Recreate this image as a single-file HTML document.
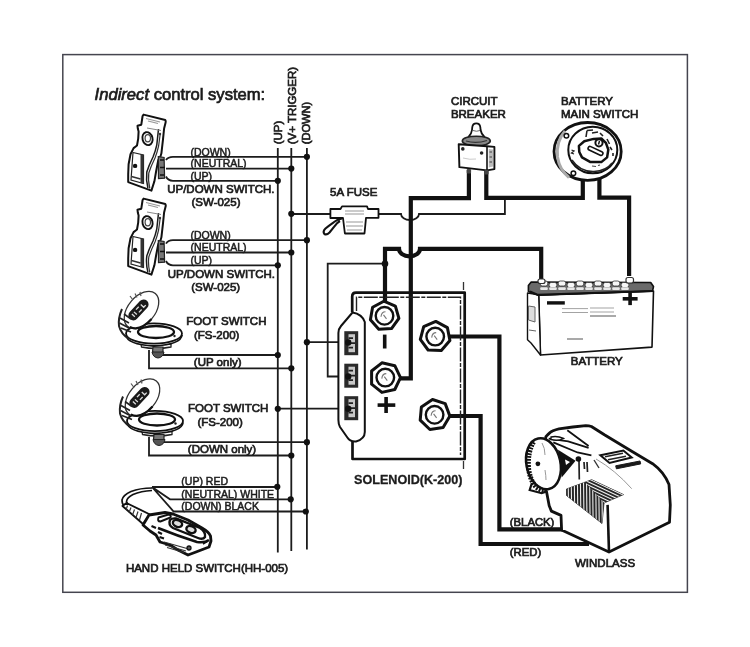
<!DOCTYPE html>
<html><head><meta charset="utf-8"><style>
html,body{margin:0;padding:0;background:#fff;}
body{width:750px;height:647px;overflow:hidden;}
svg{display:block;will-change:transform;}
text{font-family:"Liberation Sans",sans-serif;fill:#1c1c1c;stroke:#1c1c1c;stroke-width:0.7px;}
.w{font-size:10.5px;stroke-width:0.5px;}
.l{font-size:11.5px;}
.t{stroke:#1c1c1c;stroke-width:1.8;fill:none;}
.k{stroke:#111;stroke-width:4.2;fill:none;stroke-linejoin:miter;}
.d{fill:#111;}
.o{stroke:#111;stroke-width:2;fill:#fff;stroke-linejoin:round;}
</style></head><body>
<svg width="750" height="647" viewBox="0 0 750 647">
<rect x="0" y="0" width="750" height="647" fill="#fff"/>
<!-- frame -->
<rect x="62.8" y="54.6" width="624.6" height="537.7" fill="none" stroke="#45454f" stroke-width="1.5"/>

<!-- thin circuit lines center -->
<path class="t" d="M291.3 214 H401 A9 6 0 0 0 419 214 H504.9 V197.6"/>
<path class="t" d="M385 263.7 H327.7 V376.5 H348"/>
<path class="t" d="M306.9 342.2 H348"/>
<path class="t" d="M277.8 408.7 H348"/>

<!-- thick cables -->
<path class="k" d="M385 378.3 H410.8 V198.2 H468.9 V170"/>
<path class="k" d="M385 315 V248.8 H399 A10.5 7.5 0 0 0 420 248.8 H541.2 V280"/>
<path class="k" d="M486.3 170 V197.8 H582.8 V178"/>
<path class="k" d="M599.4 178 V197.6 H629.1 V276"/>
<path class="k" d="M435 336.5 H499.4 V529.4 H562.4"/>
<path class="k" d="M434.5 416 H480.6 V544 H589"/>
<!-- title -->
<text x="94.6" y="100" style="font-size:16.6px"><tspan font-style="italic">Indirect</tspan> control system:</text>

<!-- bus labels -->
<text class="l" transform="translate(282,144.3) rotate(-90)">(UP)</text>
<text class="l" transform="translate(295.6,144.3) rotate(-90)">(V+ TRIGGER)</text>
<text class="l" transform="translate(310,144.3) rotate(-90)" style="font-size:11.1px">(DOWN)</text>

<!-- bus lines -->
<path class="t" d="M277.8 148V552.4 M291.3 148V551 M306.9 148V549.4"/>

<!-- SW1 wires -->
<path class="t" d="M166 160 Q168 156.8 173 156.8 H306.9 M166 168.6 H291.3 M166 176.5 Q168 180.8 173 180.8 H277.8"/>
<!-- SW2 wires -->
<path class="t" d="M166 243.6 Q168 240.2 173 240.2 H306.9 M166 252.5 H291.3 M166 261 Q168 265.3 173 265.3 H277.8"/>
<!-- FS1 wires -->
<path class="t" d="M163 355 H277.8 M149 350 V368.3 H291.3"/>
<!-- FS2 wires -->
<path class="t" d="M163 442.2 H306.9 M149 437 V455.5 H291.3"/>
<!-- HH wires -->
<path class="t" d="M152 487 H277.8 M152 487 L170 499.3 H291.3 M152 487 L173.6 511.5 H306.9"/>

<!-- dots -->
<g class="d">
<circle cx="306.9" cy="156.8" r="3.1"/><circle cx="291.3" cy="168.6" r="3.1"/><circle cx="277.8" cy="180.8" r="3.1"/>
<circle cx="306.9" cy="240.2" r="3.1"/><circle cx="291.3" cy="252.5" r="3.1"/><circle cx="277.8" cy="265.3" r="3.1"/>
<circle cx="291.3" cy="213.8" r="3.1"/>
<circle cx="277.8" cy="355" r="3.1"/><circle cx="291.3" cy="368.3" r="3.1"/>
<circle cx="306.9" cy="342.2" r="3.1"/>
<circle cx="306.9" cy="442.2" r="3.1"/><circle cx="291.3" cy="455.5" r="3.1"/>
<circle cx="277.8" cy="408.8" r="3.1"/>
<circle cx="277.3" cy="486.8" r="3.1"/><circle cx="290.7" cy="499.3" r="3.1"/><circle cx="305.8" cy="511.5" r="3.1"/>
<circle cx="385" cy="263.7" r="3.3"/>
</g>

<!-- wire labels -->
<text class="w" x="190.4" y="155.5">(DOWN)</text>
<text class="w" x="190.6" y="167.2">(NEUTRAL)</text>
<text class="w" x="190.4" y="180">(UP)</text>
<text class="l" x="167.2" y="192.8">UP/DOWN SWITCH.</text>
<text class="l" x="191.5" y="205.9">(SW-025)</text>

<text class="w" x="190.4" y="238.6">(DOWN)</text>
<text class="w" x="190.6" y="251">(NEUTRAL)</text>
<text class="w" x="190.4" y="263.8">(UP)</text>
<text class="l" x="167.7" y="277.8">UP/DOWN SWITCH.</text>
<text class="l" x="191.2" y="291">(SW-025)</text>

<text class="l" x="186.2" y="325">FOOT SWITCH</text>
<text class="l" x="194" y="339">(FS-200)</text>
<text class="l" x="193.8" y="366.2">(UP only)</text>

<text class="l" x="188" y="412.2">FOOT SWITCH</text>
<text class="l" x="197.4" y="426.2">(FS-200)</text>
<text class="l" x="187.8" y="453">(DOWN only)</text>

<text class="w" x="181.3" y="484.9">(UP) RED</text>
<text class="w" x="181.3" y="497.6">(NEUTRAL) WHITE</text>
<text class="w" x="181.3" y="509.6">(DOWN) BLACK</text>
<text class="l" x="125.9" y="571.8">HAND HELD SWITCH(HH-005)</text>

<!-- right side labels -->
<text class="l" x="330" y="196">5A FUSE</text>
<text class="l" x="450.9" y="104.5">CIRCUIT</text>
<text class="l" x="450.9" y="117.9">BREAKER</text>
<text class="l" x="561" y="104.5">BATTERY</text>
<text class="l" x="561" y="117.9">MAIN SWITCH</text>
<text class="l" x="570.8" y="365.2">BATTERY</text>
<text x="354" y="484.3" style="font-size:12.6px;font-weight:bold;stroke-width:0.3px">SOLENOID(K-200)</text>
<text class="l" x="509.8" y="525.6" style="font-size:11.3px">(BLACK)</text>
<text class="l" x="509.8" y="556.2" style="font-size:11.3px">(RED)</text>
<text class="l" x="575" y="566.6">WINDLASS</text>


<!-- ===== UP/DOWN switch ===== -->
<g id="sw">
<path d="M143.6 114.6 L165.3 120 Q166 121 165.6 122.5 L164.1 128.5 L163 139.4 L161.4 153.3 L160.6 156 L158.3 160 L156 172 L154.4 181.3 L151.4 190.6 L128.2 182.1 L128.2 174.4 L128.6 164.3 L130.5 154.3 L133.6 148.1 L137 145.5 L138.2 138.6 L138.6 131.6 L137.8 128.5 L137.5 125.8 L141.3 124.7 L142.6 116 Z" fill="#fff" stroke="#111" stroke-width="2" stroke-linejoin="round"/>
<path d="M158.5 129 Q157.5 138 156.8 144.8 Q155.5 151 153 157 Q149 165 146.8 172 Q145.8 180 147.9 188" fill="none" stroke="#1a1a1a" stroke-width="1.5"/>
<path d="M160.2 134 Q159.3 141 158.6 146 Q157.3 152 155 158 Q151 166 148.8 173 Q147.8 180 149.8 188.5" fill="none" stroke="#333" stroke-width="1.2"/>
<ellipse cx="147.5" cy="138.6" rx="5" ry="6.6" transform="rotate(-15 147.5 138.6)" fill="none" stroke="#111" stroke-width="1.9"/>
<ellipse cx="147.8" cy="138.3" rx="2.7" ry="3.6" fill="none" stroke="#444" stroke-width="1.2"/>
<path d="M133 152.5 L143.5 155 L143.5 183.5 L131 180 Z" fill="#fff" stroke="#222" stroke-width="1.2"/>
<path d="M140.5 154 L143.5 155 L143.5 184 L140.5 183 Z" fill="#333"/>
<path d="M131.5 176.5 L140.5 179" stroke="#333" stroke-width="1.5"/>
<circle cx="135.1" cy="165.9" r="2.2" fill="#111"/>
<path d="M147 128 L161 130.5" stroke="#888" stroke-width="1"/>
<path d="M146 118.5 L160 122 M148 121 L158 123.5" stroke="#999" stroke-width="1.2"/>
<circle cx="160" cy="134" r="1.2" fill="#333"/>
<path d="M158.3 156.6 L164.1 157.5 L164.6 178.2 L158.5 178.5 Z" fill="#777" stroke="#222" stroke-width="1.2"/>
<path d="M160 160 L164 160 M160 167.5 L165 167.5 M160 175 L164 175" stroke="#111" stroke-width="1.6"/>
</g>
<use href="#sw" transform="translate(0,84)"/>



<!-- ===== FOOT SWITCH ===== -->
<g id="fs">
<path d="M141 344 L141.5 347 Q156 350 171 347 L171 344 Z" fill="#fff" stroke="#222" stroke-width="1.3"/>
<path d="M153 347 L152.5 352 Q158 354 163 352 L163 347 Z" fill="#777" stroke="#222" stroke-width="1.2"/>
<path d="M152 352 Q153 357.5 158 358 Q163 357.5 164 352 Z" fill="#555" stroke="#222" stroke-width="1"/>
<path d="M126 335 Q127 344.5 154 346 Q181 344.5 182 335" fill="#fff" stroke="#111" stroke-width="1.8"/>
<ellipse cx="154" cy="333.5" rx="28" ry="10.2" fill="#fff" stroke="#111" stroke-width="1.8"/>
<ellipse cx="156" cy="332" rx="18" ry="6" fill="#fff" stroke="#111" stroke-width="2.3"/>
<circle cx="174.5" cy="336" r="1.2" fill="#222"/>
<g transform="rotate(-50 141.5 310)">
<ellipse cx="141.5" cy="310" rx="21.5" ry="13.5" fill="#fff" stroke="#333" stroke-width="1.3"/>
<path d="M121 312 Q124 323 141 323.5" fill="none" stroke="#111" stroke-width="2.2"/>
</g>
<g transform="rotate(-47 138.4 310)">
<rect x="126" y="305" width="25" height="10" rx="5" fill="#1a1a1a"/>
<path d="M131 308 V312 M134 308 V312 M137 308 H141 M137 312 H141 M144 308 V312 H147" stroke="#ddd" stroke-width="1.3" fill="none"/>
</g>
<path d="M122 309 Q118 318 119 326 Q121 334 129 339" fill="none" stroke="#222" stroke-width="2"/>
<path d="M120 318 L129 323 M119.5 323 L129 328 M121 328 L131 332 M124 314 L131 319" fill="none" stroke="#222" stroke-width="1.6"/>
<path d="M130 296 L133 300 M135 293.5 L137 297.5 M140 292 L141 296" stroke="#555" stroke-width="1.2"/>
</g>
<use href="#fs" transform="translate(1,87.5)"/>

<!-- ===== HAND HELD ===== -->
<g>
<path d="M152 488 Q140 488 131 491.5 Q123 495 122 500 Q122 504 124 505.5 M152 490.5 Q141 491 133 494.5 Q127 497.5 126.5 501.5 Q127 503.5 128 504" fill="none" stroke="#111" stroke-width="1.7"/>
<path d="M122.5 506 L126.5 503 L150 514.5 L143 524 Z" fill="#fff" stroke="#111" stroke-width="1.9" stroke-linejoin="round"/>
<path d="M127.5 505.5 L126 510 M131 507.5 L129 512.5 M134.5 509.5 L132.5 515 M138 511.5 L136 517.5 M141.5 513 L139.5 520" stroke="#333" stroke-width="1.2"/>
<path d="M149 515 L165 512.5 L173 514 L188 520 L202 528 Q209 532 210.5 536 L211 541 L209 547 L196 552 L188 555 L178 550 L170 545 L160 542 L156 535 L150 531 L143 525 Z" fill="#fff" stroke="#111" stroke-width="2.8" stroke-linejoin="round"/>
<path d="M158.5 517.5 L168.5 514.5 Q171.5 515 170.5 517.5 L160.5 521.5 Q157 521.5 158.5 517.5 Z" fill="#fff" stroke="#111" stroke-width="2"/>
<path d="M170 520 Q172 518 176 518.5 L200 528 Q206 532 205 537 Q203 540 198 538 L173 528 Q168 525 170 520 Z" fill="#fff" stroke="#111" stroke-width="2.4"/>
<ellipse cx="177.5" cy="523.5" rx="4.8" ry="3.3" transform="rotate(22 177.5 523.5)" fill="#ddd" stroke="#111" stroke-width="2.4"/>
<ellipse cx="191" cy="529.5" rx="4.8" ry="3.3" transform="rotate(22 191 529.5)" fill="#ddd" stroke="#111" stroke-width="2.4"/>
<path d="M158 528 Q178 536 197 542 Q205 543 209 540" fill="none" stroke="#111" stroke-width="2.6"/>
<path d="M164 542 L187 548.5 M165 545 L186 551 M167 547.5 L184 552.5" stroke="#333" stroke-width="1.2"/>
<path d="M151.5 526 L156 528 M158 532 L162 534 M159.5 537 L164 538.5" stroke="#111" stroke-width="2.2"/>
<circle cx="189" cy="548" r="2" fill="#555" stroke="#111" stroke-width="1.3"/>
<path d="M203 544 L208 541" stroke="#111" stroke-width="1.5"/>
</g>

<!-- ===== WINDLASS ===== -->
<g>
<path d="M545.9 436.7 Q550 432 552.4 431.1 Q556 429.3 558.9 428.8 L572.8 427 L585.8 425.6 Q589 425.6 591.4 426.5 L604.4 434.8 L631.7 451.2 L652.6 463.7 Q664 472 669 484.6 L670.3 505 L669.5 522.3 L609 552.1 L561.6 530 L561 515.4 L551.4 511.1 L549.2 505.7 L546.5 491.6 L540 480 Z" fill="#fff" stroke="#111" stroke-width="2.8" stroke-linejoin="round"/>
<path d="M609 552.1 L607.6 504.9" fill="none" stroke="#111" stroke-width="2.6"/>
<path d="M531.9 483 L529.7 490 L541.6 493.2 L546 491.6" fill="none" stroke="#111" stroke-width="2.2"/>
<path d="M596 459 Q615 470 631.7 488.7" fill="none" stroke="#999" stroke-width="1"/>
<defs>
<clipPath id="finL"><polygon points="566.5,489 585,482.1 604,503 602,523.5 566.5,495.5"/></clipPath>
<clipPath id="finR"><polygon points="585,482.1 591.7,479.7 623.5,494.6 604,503"/></clipPath>
</defs>
<polygon points="566.5,489 591.7,479.7 623.5,494.6 604,503 602,523.5 566.5,495.5" fill="#262626" stroke="#222" stroke-width="0.8" stroke-linejoin="round"/>
<path clip-path="url(#finL)" d="M568.2 478 L568.8 530 M571.2 478 L571.9 530 M574.3 478 L574.9 530 M577.4 478 L578.0 530 M580.4 478 L581.0 530 M583.5 478 L584.1 530 M586.5 478 L587.1 530 M589.6 478 L590.2 530 M592.6 478 L593.2 530 M595.7 478 L596.3 530 M598.7 478 L599.3 530 M601.8 478 L602.4 530 M604.8 478 L605.4 530" stroke="#eee" stroke-width="1.1"/>
<path clip-path="url(#finR)" d="M580 465.2 L630 488.6 M580 468.4 L630 491.8 M580 471.6 L630 495.1 M580 474.8 L630 498.2 M580 478.0 L630 501.4 M580 481.2 L630 504.6 M580 484.4 L630 507.8 M580 487.6 L630 511.1 M580 490.8 L630 514.2 M580 494.0 L630 517.5 M580 497.2 L630 520.6 M580 500.4 L630 523.9 M580 503.6 L630 527.1 M580 506.8 L630 530.2 M580 510.0 L630 533.5 M580 513.2 L630 536.7" stroke="#eee" stroke-width="1.1"/>
<path d="M600.4 455.3 L623.4 450.5 L631.7 457.4 L609.5 463 Z" fill="#fff" stroke="#111" stroke-width="2"/>
<path d="M605 456.8 L623 453.3 M608 459.8 L626 456.3" stroke="#222" stroke-width="1.6"/>
<path d="M615.7 465.8 L640 461 L640.7 463.9 L616.4 468.8 Z" fill="#1a1a1a" stroke="#1a1a1a" stroke-width="1"/>
<path d="M548.7 438.6 L568.2 441.3 L588.6 447.8 M567.3 430.2 L588.6 446 M553.3 442.3 L577.5 452.5 L591.4 455.3" fill="none" stroke="#111" stroke-width="1.8"/>
<path d="M551 437 Q557 435.5 563.6 438.5 Q558 441.5 551 439.5 Z" fill="#fff" stroke="#111" stroke-width="1.4"/>
<path d="M558 449.7 L575.6 460.8 L561.7 477.5 Z" fill="#111"/>
<path d="M565 459.5 L570 462 L566 465 Z" fill="#fff"/>
<path d="M579 461 L579.3 479.4 M584 462 L584.5 469 M587 462 L587.5 472" stroke="#222" stroke-width="1.7"/>
<circle cx="578.4" cy="459" r="2.8" fill="#111"/>
<path d="M594 460 L599 468" stroke="#333" stroke-width="1.4"/>
<ellipse cx="543.5" cy="463.8" rx="17" ry="25.8" transform="rotate(-12 543.5 463.8)" fill="#fff" stroke="#111" stroke-width="2.6"/>
<path d="M533.5 442 Q527.5 452 528.5 468 Q530 480 536 487 Q540 490 544 490.5" fill="none" stroke="#111" stroke-width="5" stroke-dasharray="1.9 1.1"/>
<circle cx="537.9" cy="463.8" r="2.4" fill="#111"/>
<path d="M542 443 Q545 448 545 455 M545 470 Q546 476 546 480" fill="none" stroke="#999" stroke-width="1"/>
</g>

<!-- ===== FUSE ===== -->
<g>
<path d="M330.4 209 H340.5 L342 206.4 H367 L368 209 H378.5 V217.8 H366 L364.5 233.5 H344.9 L343 218 H330.4 Z" fill="#fff" stroke="#111" stroke-width="1.8" stroke-linejoin="round"/>
<path d="M345 211 H364 M345 214 H364 M346 222 H363 M346 226 H363 M347 230 H362" stroke="#bbb" stroke-width="1.6"/>
<path d="M342 218.5 Q337 219.5 333.7 222.3 Q329 225.5 325.5 228.5 Q322.5 231.5 324.3 233.8 Q326.5 235.5 329.5 232.5 Q332 229.5 334 226.9 Q337 222.5 340 221" fill="#fff" stroke="#111" stroke-width="2.1" stroke-linejoin="round"/>
</g>

<!-- ===== CIRCUIT BREAKER ===== -->
<g>
<path d="M468.5 137 Q471.5 134 472 130 L472.3 127 Q472.8 123.3 476.3 123.3 Q479.8 123.3 480.3 127 L480.6 130 Q481.2 134 484.5 137 Z" fill="#fff" stroke="#111" stroke-width="1.8" stroke-linejoin="round"/>
<path d="M473 130.5 Q476.5 132 480 130.5" fill="none" stroke="#666" stroke-width="1"/>
<ellipse cx="476.3" cy="141" rx="14" ry="4.8" fill="#888" stroke="#222" stroke-width="1.6"/>
<path d="M466 141 Q476 144 487 140.5" fill="none" stroke="#333" stroke-width="1.2"/>
<path d="M458.7 144.2 L487 146.2 L494.4 146.9 L494.4 169.1 L487 170.4 L459.4 167.1 Z" fill="#fff" stroke="#111" stroke-width="1.9" stroke-linejoin="round"/>
<path d="M487 146.2 V170.4" stroke="#111" stroke-width="1.6"/>
<path d="M488.8 149 L493 149.5 L493 166.5 L488.8 167.5 Z" fill="#bbb"/>
<path d="M489.5 152 H492 M489.5 157 H492 M489.5 162 H492" stroke="#444" stroke-width="1.2"/>
<circle cx="462.8" cy="148.9" r="1.8" fill="#222"/><circle cx="481.6" cy="153" r="1.8" fill="#222"/>
<path d="M463 158 Q470 160 476 159" fill="none" stroke="#ccc" stroke-width="1"/>
<rect x="466.7" y="169" width="4.4" height="4.5" rx="1" fill="#444"/><rect x="484.2" y="170" width="4.4" height="4.5" rx="1" fill="#444"/>
</g>

<!-- ===== BATTERY MAIN SWITCH ===== -->
<g>
<ellipse cx="587.6" cy="151.4" rx="33.6" ry="28.9" fill="#fff" stroke="#111" stroke-width="2.8"/>
<path d="M565 131 Q556 141 557.5 157 Q559.5 170 569 177.5" fill="none" stroke="#aaa" stroke-width="3"/>
<ellipse cx="592.8" cy="150" rx="24.5" ry="23.2" fill="#fff" stroke="#111" stroke-width="2"/>
<path d="M572 160 Q580 172 594 171.5 Q606 171 612 163" fill="none" stroke="#222" stroke-width="1.4"/>
<path d="M578.9 145.9 L584.3 141.2 L593.6 138.9 L601.3 138.5 L605.9 142.8 L608.3 149.7 L607.1 157.4 L601.3 162.1 L590.5 162.1 L582 157.4 L579.3 152 Z" fill="#fff" stroke="#111" stroke-width="2.5" stroke-linejoin="round"/>
<g transform="rotate(25 595.5 150.9)"><rect x="587.5" y="149" width="16" height="3.8" rx="1.9" fill="#fff" stroke="#111" stroke-width="1.6"/></g>
<circle cx="599" cy="142.8" r="3.6" fill="#fff" stroke="#111" stroke-width="2"/>
<path d="M599.5 141 L598.5 144.5" stroke="#111" stroke-width="1.4"/>
<path d="M587 130.5 L586 137 M587 130.5 L593 130 M592 133 L598 132 M600 133 L603 136 M607 139 L609.5 144 M610 147 L612 150 M613 153 L613 156" stroke="#222" stroke-width="1.6"/>
<path d="M571.5 150 L574 151 L571.5 153 L574 154" fill="none" stroke="#222" stroke-width="1.3"/>
<path d="M592 166 L596 166.5 M598 165.5 L600 165" stroke="#444" stroke-width="1.2"/>
<circle cx="566.4" cy="135.7" r="2.3" fill="#fff" stroke="#111" stroke-width="1.5"/>
<circle cx="573.4" cy="173.3" r="2.3" fill="#fff" stroke="#111" stroke-width="1.5"/>
</g>

<!-- ===== BATTERY ===== -->
<g>
<path d="M538.7 294.9 L653.5 291 L652 347.1 L540.5 355 Z" fill="#fff" stroke="#111" stroke-width="1.6" stroke-linejoin="round"/>
<path d="M527.5 293 L538.7 294.9 L540.5 355 L531 343 L527.5 339.7 Z" fill="#fff" stroke="#111" stroke-width="1.4" stroke-linejoin="round"/>
<path d="M528.5 306 L535 307 L535 322 L528.5 320 Z M529 330 L536 331" fill="#ddd" stroke="#666" stroke-width="1"/>
<path d="M528.4 285.5 L531.2 282 L650.7 282.5 L653.5 286.5 L652.5 291.1 L538 295.2 L528.4 291.5 Z" fill="#6a6a6a" stroke="#111" stroke-width="1.6" stroke-linejoin="round"/>
<rect x="540.2" y="281.0" width="7.6" height="5" rx="2" fill="#f6f6f6" stroke="#333" stroke-width="0.8"/>
<rect x="540.2" y="287.3" width="7.6" height="2.6" rx="1" fill="#e8e8e8"/>
<rect x="549.2" y="282.5" width="7.6" height="5" rx="2" fill="#f6f6f6" stroke="#333" stroke-width="0.8"/>
<rect x="549.2" y="287.3" width="7.6" height="2.6" rx="1" fill="#e8e8e8"/>
<rect x="558.2" y="281.0" width="7.6" height="5" rx="2" fill="#f6f6f6" stroke="#333" stroke-width="0.8"/>
<rect x="558.2" y="287.3" width="7.6" height="2.6" rx="1" fill="#e8e8e8"/>
<rect x="567.2" y="282.5" width="7.6" height="5" rx="2" fill="#f6f6f6" stroke="#333" stroke-width="0.8"/>
<rect x="567.2" y="287.3" width="7.6" height="2.6" rx="1" fill="#e8e8e8"/>
<rect x="576.2" y="281.0" width="7.6" height="5" rx="2" fill="#f6f6f6" stroke="#333" stroke-width="0.8"/>
<rect x="576.2" y="287.3" width="7.6" height="2.6" rx="1" fill="#e8e8e8"/>
<rect x="585.2" y="282.5" width="7.6" height="5" rx="2" fill="#f6f6f6" stroke="#333" stroke-width="0.8"/>
<rect x="585.2" y="287.3" width="7.6" height="2.6" rx="1" fill="#e8e8e8"/>
<rect x="594.2" y="281.0" width="7.6" height="5" rx="2" fill="#f6f6f6" stroke="#333" stroke-width="0.8"/>
<rect x="594.2" y="287.3" width="7.6" height="2.6" rx="1" fill="#e8e8e8"/>
<rect x="603.2" y="282.5" width="7.6" height="5" rx="2" fill="#f6f6f6" stroke="#333" stroke-width="0.8"/>
<rect x="603.2" y="287.3" width="7.6" height="2.6" rx="1" fill="#e8e8e8"/>
<rect x="612.2" y="281.0" width="7.6" height="5" rx="2" fill="#f6f6f6" stroke="#333" stroke-width="0.8"/>
<rect x="612.2" y="287.3" width="7.6" height="2.6" rx="1" fill="#e8e8e8"/>
<rect x="621.2" y="282.5" width="7.6" height="5" rx="2" fill="#f6f6f6" stroke="#333" stroke-width="0.8"/>
<rect x="621.2" y="287.3" width="7.6" height="2.6" rx="1" fill="#e8e8e8"/>
<path d="M530 291.5 L538 294.8 L652.5 291" fill="none" stroke="#111" stroke-width="2"/>
<rect x="626" y="277.5" width="7.5" height="5.5" rx="2" fill="#fff" stroke="#333" stroke-width="1.2"/>
<rect x="538" y="279" width="7" height="4.5" rx="2" fill="#fff" stroke="#333" stroke-width="1.2"/>
<rect x="547" y="301.2" width="17.8" height="3.4" fill="#111"/>
<rect x="622.7" y="297" width="14.9" height="3.6" fill="#111"/>
<rect x="628.3" y="292" width="3.6" height="13.1" fill="#111"/>
<path d="M562 308.6 H588 M562 312.5 H588 M590 308 H614 M590 312 H614" stroke="#999" stroke-width="0.9"/>
<path d="M590 316 H616 M567 339 H583" stroke="#555" stroke-width="1.1"/>
</g>

<!-- ===== SOLENOID ===== -->
<g>
<path d="M352.5 440 V459 H464.7 V292.6 H356 Q352.2 292.6 352.2 296.5 V312" fill="none" stroke="#111" stroke-width="2.7" stroke-linejoin="round"/>
<path d="M356.5 311 V297.3 H460.5 V455" fill="none" stroke="#222" stroke-width="1.4" stroke-dasharray="14 1.5 4 1.5"/>
<path d="M463.5 282 V290 M463.5 461 V469" stroke="#333" stroke-width="1.3"/>
<path d="M352.5 312.5 Q362 314 364.8 322 V432 Q364.8 439 356 441.5 Q350 442 347 437 L340 427 Q338.4 424 338.4 420 V333 Q338.4 329 341 326 Z" fill="#fff" stroke="#111" stroke-width="2" stroke-linejoin="round"/>
<rect x="344.3" y="331.2" width="13.9" height="24" fill="#2a2a2a"/>
<rect x="348.5" y="334.2" width="6.5" height="18" fill="#c8c8c8"/>
<path d="M348.5 338.2 H353 M350 343.2 H355 M348.5 347.7 H353" stroke="#222" stroke-width="1.8"/>
<rect x="344.3" y="363.7" width="13.9" height="24" fill="#2a2a2a"/>
<rect x="348.5" y="366.7" width="6.5" height="18" fill="#c8c8c8"/>
<path d="M348.5 370.7 H353 M350 375.7 H355 M348.5 380.2 H353" stroke="#222" stroke-width="1.8"/>
<rect x="344.3" y="396.2" width="13.9" height="24" fill="#2a2a2a"/>
<rect x="348.5" y="399.2" width="6.5" height="18" fill="#c8c8c8"/>
<path d="M348.5 403.2 H353 M350 408.2 H355 M348.5 412.7 H353" stroke="#222" stroke-width="1.8"/>
<circle cx="348.2" cy="342.5" r="3.2" fill="#111"/><circle cx="348.2" cy="376.5" r="3.2" fill="#111"/><circle cx="348.2" cy="408.7" r="3.2" fill="#111"/>

<polygon points="398.9,318.3 391.5,328.6 378.8,329.3 370.4,319.8 372.6,307.3 383.8,301.2 395.4,306.1" fill="#fff" stroke="#111" stroke-width="3" stroke-linejoin="round"/>
<circle cx="384.5" cy="315.8" r="8.8" fill="#fff" stroke="#111" stroke-width="2.4"/>
<path d="M381.0 316.8 Q381.5 311.8 385.5 311.8 M383.5 314.8 L386.5 318.8" fill="none" stroke="#777" stroke-width="1.1"/>
<polygon points="400.5,377.6 394.8,389.5 381.9,392.4 371.6,384.2 371.6,371.0 381.9,362.8 394.8,365.7" fill="#fff" stroke="#111" stroke-width="3" stroke-linejoin="round"/>
<circle cx="385.3" cy="377.6" r="8.8" fill="#fff" stroke="#111" stroke-width="2.4"/>
<path d="M381.8 378.6 Q382.3 373.6 386.3 373.6 M384.3 376.6 L387.3 380.6" fill="none" stroke="#777" stroke-width="1.1"/>
<polygon points="449.9,340.5 441.3,350.5 428.1,350.0 420.3,339.4 423.7,326.7 435.8,321.4 447.4,327.6" fill="#fff" stroke="#111" stroke-width="3" stroke-linejoin="round"/>
<circle cx="435.2" cy="336.6" r="8.8" fill="#fff" stroke="#111" stroke-width="2.4"/>
<path d="M431.7 337.6 Q432.2 332.6 436.2 332.6 M434.2 335.6 L437.2 339.6" fill="none" stroke="#777" stroke-width="1.1"/>
<polygon points="449.9,416.1 443.1,427.6 429.9,429.5 420.2,420.2 421.4,406.9 432.5,399.5 445.2,403.6" fill="#fff" stroke="#111" stroke-width="3" stroke-linejoin="round"/>
<circle cx="434.6" cy="414.8" r="8.8" fill="#fff" stroke="#111" stroke-width="2.4"/>
<path d="M431.1 415.8 Q431.6 410.8 435.6 410.8 M433.6 413.8 L436.6 417.8" fill="none" stroke="#777" stroke-width="1.1"/>
<rect x="382.9" y="334.6" width="3.6" height="13.9" fill="#111"/>
<rect x="377.6" y="403.3" width="17.7" height="3.6" fill="#111"/>
<rect x="384.3" y="397" width="3.6" height="16" fill="#111"/>
</g>

</svg>
</body></html>
